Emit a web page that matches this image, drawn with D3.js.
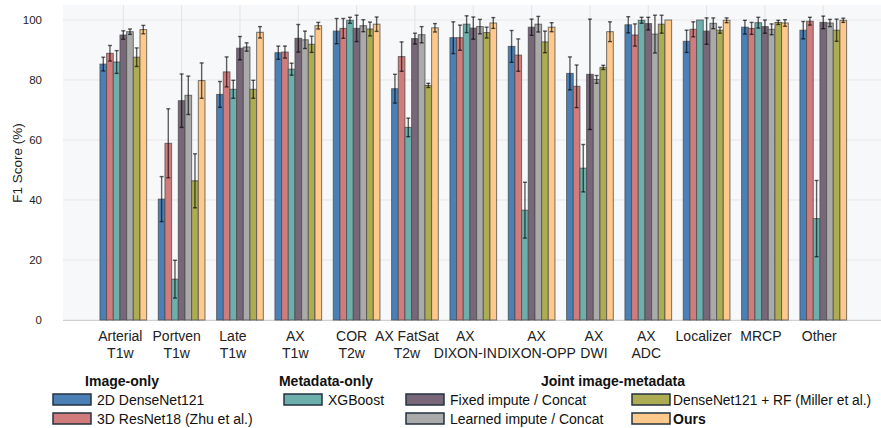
<!DOCTYPE html>
<html>
<head>
<meta charset="utf-8">
<script src="https://cdn.jsdelivr.net/npm/d3@7"></script>
<style>
  html, body { margin: 0; padding: 0; background: #ffffff; }
  svg { display: block; font-family: "Liberation Sans", Arial, Helvetica, sans-serif; }
</style>
</head>
<body>
<svg id="chart" width="881" height="428"></svg>
<script>
// ---------- DATA ----------
const categories = ["Arterial\nT1w", "Portven\nT1w", "Late\nT1w", "AX\nT1w", "COR\nT2w", "AX FatSat\nT2w",
  "AX\nDIXON-IN", "AX\nDIXON-OPP", "AX\nDWI", "AX\nADC", "Localizer", "MRCP", "Other"];
const seriesNames = ["2D DenseNet121", "3D ResNet18 (Zhu et al.)", "XGBoost", "Fixed impute / Concat",
  "Learned impute / Concat", "DenseNet121 + RF (Miller et al.)", "Ours"];
const dense2d     = [85.3, 40.3, 75.2, 89.1, 96.3, 77.1, 94.1, 91.2, 82.2, 98.4, 92.9, 97.6, 96.6];
const dense2dErr  = [2.3, 7.5, 4.3, 2.2, 4.2, 4.8, 5.3, 5.3, 5.5, 2.7, 3.7, 2.3, 2.9];
const resnet3d    = [88.9, 58.9, 82.7, 89.3, 97.2, 87.8, 94.1, 88.3, 77.9, 95.0, 96.9, 97.2, 99.6];
const resnet3dErr = [2.6, 11.5, 5.0, 2.0, 3.3, 4.9, 4.2, 5.4, 7.1, 3.7, 2.5, 2.0, 1.3];
const xgboost     = [86.0, 13.6, 76.9, 83.6, 99.9, 64.2, 98.6, 36.6, 50.6, 99.9, 100, 99.1, 33.8];
const xgboostErr  = [3.8, 6.3, 3.0, 2.0, 1.0, 3.1, 2.8, 9.3, 7.9, 1.0, 0, 1.8, 12.7];
const fixedImp    = [95.0, 73.1, 90.6, 93.9, 97.2, 93.8, 97.3, 97.6, 81.9, 98.8, 96.3, 97.8, 99.2];
const fixedImpErr = [1.4, 8.9, 3.9, 4.6, 4.4, 1.8, 3.7, 2.7, 18.4, 2.1, 4.4, 2.2, 2.1];
const learnedImp    = [96.1, 74.9, 91.0, 93.4, 98.1, 95.1, 97.8, 98.6, 80.2, 95.3, 98.9, 96.9, 99.0];
const learnedImpErr = [0.9, 6.4, 1.4, 2.9, 2.0, 2.7, 2.4, 2.6, 1.3, 6.3, 1.8, 1.8, 1.2];
const denseRF     = [87.6, 46.4, 76.9, 91.9, 97.0, 78.2, 95.8, 92.7, 84.2, 98.6, 96.6, 99.2, 96.6];
const denseRFErr  = [3.1, 9.0, 3.0, 2.7, 2.3, 0.7, 1.8, 3.6, 0.7, 3.0, 1.0, 0.7, 3.7];
const ours        = [96.8, 79.8, 95.9, 98.1, 98.6, 97.4, 99.0, 97.6, 96.1, 100, 99.9, 99.0, 99.9];
const oursErr     = [1.4, 5.9, 1.9, 1.1, 2.4, 1.4, 1.8, 1.5, 3.3, 0, 0.8, 1.1, 0.7];
const yTicks = [0, 20, 40, 60, 80, 100];
const legendGroups = ["Image-only", "Metadata-only", "Joint image-metadata"];

// ---------- STYLE ----------
const colors = ["#4b80b7", "#d07c7c", "#6cafac", "#776778", "#aaaaaa", "#acac52", "#fec98b"];
const labelShift = [-3, -5, -7, -3, -5, -8, -8, 5, 4, -2, -3, -4, -4];
const allValues = [dense2d, resnet3d, xgboost, fixedImp, learnedImp, denseRF, ours];
const allErrors = [dense2dErr, resnet3dErr, xgboostErr, fixedImpErr, learnedImpErr, denseRFErr, oursErr];

const svg = d3.select("#chart");
const plot = { left: 63, right: 881, top: 5, bottom: 320 };

const x = d3.scaleBand().domain(categories)
  .range([123.3 - 58.33 / 2, 123.3 + 58.33 * 12 + 58.33 / 2]).paddingInner(0).paddingOuter(0);
const xInner = d3.scaleBand().domain(seriesNames)
  .range([(58.33 - 46.7) / 2, (58.33 + 46.7) / 2]).padding(0);
const y = d3.scaleLinear().domain([0, 105]).range([plot.bottom, plot.top]);

// background
svg.append("rect").attr("x", plot.left).attr("y", plot.top)
  .attr("width", plot.right - plot.left).attr("height", plot.bottom - plot.top)
  .attr("fill", "#f7f8fa");

// horizontal grid
svg.append("g").selectAll("line").data(yTicks).join("line")
  .attr("x1", plot.left).attr("x2", plot.right)
  .attr("y1", d => y(d)).attr("y2", d => y(d))
  .attr("stroke", "#e6e7ea").attr("stroke-width", 1);

// vertical grid at group centers
svg.append("g").selectAll("line").data(categories).join("line")
  .attr("x1", d => x(d) + x.bandwidth() / 2).attr("x2", d => x(d) + x.bandwidth() / 2)
  .attr("y1", plot.top).attr("y2", plot.bottom)
  .attr("stroke", "#e2e3e6").attr("stroke-width", 1);

// bottom axis line
svg.append("line").attr("x1", plot.left).attr("x2", plot.right)
  .attr("y1", plot.bottom + 0.5).attr("y2", plot.bottom + 0.5)
  .attr("stroke", "#d0d0d0").attr("stroke-width", 1);

// bars
const barData = [];
seriesNames.forEach((s, si) => {
  categories.forEach((c, ci) => {
    barData.push({ s, si, c, v: allValues[si][ci], e: allErrors[si][ci] });
  });
});

svg.append("g").selectAll("rect").data(barData).join("rect")
  .attr("x", d => x(d.c) + xInner(d.s))
  .attr("y", d => y(d.v))
  .attr("width", xInner.bandwidth())
  .attr("height", d => y(0) - y(d.v))
  .attr("fill", d => colors[d.si])
  .attr("stroke", "#4a4a4a").attr("stroke-opacity", 0.75).attr("stroke-width", 1);

// error bars
const errG = svg.append("g").attr("stroke", "#000").attr("stroke-opacity", 0.62).attr("stroke-width", 1.4);
barData.filter(d => d.e > 0).forEach(d => {
  const cx = x(d.c) + xInner(d.s) + xInner.bandwidth() / 2;
  const y1 = y(Math.min(d.v + d.e, 104.5)), y2 = y(d.v - d.e);
  errG.append("line").attr("x1", cx).attr("x2", cx).attr("y1", y1).attr("y2", y2);
  errG.append("line").attr("x1", cx - 2).attr("x2", cx + 2).attr("y1", y1).attr("y2", y1);
  errG.append("line").attr("x1", cx - 2).attr("x2", cx + 2).attr("y1", y2).attr("y2", y2);
});

// y axis
const yAxis = d3.axisLeft(y).tickValues(yTicks).tickSize(0).tickPadding(0);
const yg = svg.append("g").attr("transform", "translate(42,0)").call(yAxis);
yg.select(".domain").remove();
yg.selectAll("text").attr("font-size", 11.5).attr("fill", "#222").attr("font-family", "Liberation Sans, Arial, sans-serif");

svg.append("text").attr("transform", "translate(17,163) rotate(-90)")
  .attr("text-anchor", "middle").attr("dominant-baseline", "central")
  .attr("font-size", 13.5).attr("fill", "#222").text("F1 Score (%)");

// x axis labels
const xAxis = d3.axisBottom(x).tickSize(0).tickFormat("");
const xg = svg.append("g").attr("transform", `translate(0,${plot.bottom})`).call(xAxis);
xg.select(".domain").remove();
xg.selectAll(".tick").each(function(d, i) {
  const lines = d.split("\n");
  const t = d3.select(this).append("text").attr("text-anchor", "middle")
    .attr("fill", "#222").attr("font-size", 14);
  lines.forEach((ln, k) => {
    t.append("tspan").attr("x", labelShift[i]).attr("y", 16 + k * 17).attr("dy", "0.35em").text(ln);
  });
});

// legend
const lg = svg.append("g").attr("font-size", 14).attr("fill", "#111");
const headPos = [[122, 381], [326, 381], [613, 381]];
legendGroups.forEach((h, i) => {
  lg.append("text").attr("x", headPos[i][0]).attr("y", headPos[i][1])
    .attr("text-anchor", "middle").attr("dominant-baseline", "central")
    .attr("font-weight", "bold").attr("font-size", 14).text(h);
});
const itemPos = [[53, 0], [53, 1], [284, 0], [406, 0], [406, 1], [632, 0], [632, 1]];
seriesNames.forEach((s, i) => {
  const [lx, row] = itemPos[i];
  const cy = 400 + row * 19;
  lg.append("rect").attr("x", lx).attr("y", cy - 6).attr("width", 38).attr("height", 11)
    .attr("fill", colors[i]).attr("stroke", "#23323f").attr("stroke-width", 1.5);
  lg.append("text").attr("x", lx + (i === 5 || i === 6 ? 41 : 44)).attr("y", cy)
    .attr("dominant-baseline", "central")
    .attr("font-weight", i === 6 ? "bold" : "normal")
    .attr("font-size", i === 5 ? 13.8 : 14)
    .text(s);
});
</script>
</body>
</html>
